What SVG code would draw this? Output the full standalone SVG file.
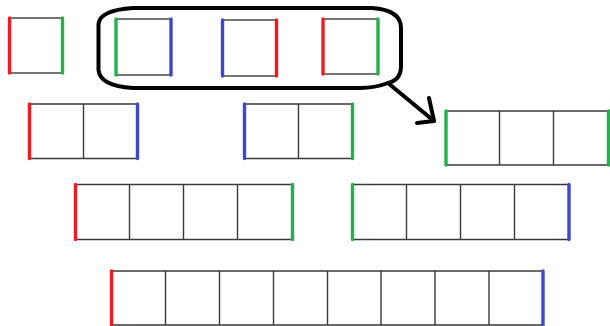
<svg xmlns="http://www.w3.org/2000/svg" width="610" height="326" viewBox="0 0 610 326">
  <style>
    .cell { fill: none; stroke: #3a3a3a; stroke-width: 1.4; }
    .edge { stroke-width: 3.4; stroke-linecap: round; fill: none; }
    .red { stroke: #ed1c24; }
    .green { stroke: #22b14c; }
    .blue { stroke: #3f48cc; }
    .ink { fill: none; stroke: #000; stroke-width: 4; stroke-linecap: round; stroke-linejoin: round; }
  </style>
  <rect width="610" height="326" fill="#fff"/>

  <!-- row 1: single squares -->
  <g id="sq-rg">
    <rect class="cell" x="9.5" y="18" width="53" height="55"/>
    <line class="edge red" x1="9.5" y1="18" x2="9.5" y2="73"/>
    <line class="edge green" x1="62.5" y1="18" x2="62.5" y2="73"/>
  </g>
  <g id="sq-gb">
    <rect class="cell" x="116" y="19" width="55" height="56"/>
    <line class="edge green" x1="116" y1="19" x2="116" y2="75"/>
    <line class="edge blue" x1="171" y1="19" x2="171" y2="75"/>
  </g>
  <g id="sq-br">
    <rect class="cell" x="222.5" y="20" width="54" height="56"/>
    <line class="edge blue" x1="222.5" y1="20" x2="222.5" y2="76"/>
    <line class="edge red" x1="276.5" y1="20" x2="276.5" y2="76"/>
  </g>
  <g id="sq-rg2">
    <rect class="cell" x="323" y="19" width="55" height="55"/>
    <line class="edge red" x1="323" y1="19" x2="323" y2="74"/>
    <line class="edge green" x1="378" y1="19" x2="378" y2="74"/>
  </g>

  <!-- row 2 -->
  <g id="bar-rb">
    <path class="cell" d="M29.5 104H137.5V158.5H29.5Z M83.5 104V158.5"/>
    <line class="edge red" x1="29.5" y1="104" x2="29.5" y2="158.5"/>
    <line class="edge blue" x1="137.5" y1="104" x2="137.5" y2="158.5"/>
  </g>
  <g id="bar-bg">
    <path class="cell" d="M244.5 104H352.5V158.5H244.5Z M298.5 104V158.5"/>
    <line class="edge blue" x1="244.5" y1="104" x2="244.5" y2="158.5"/>
    <line class="edge green" x1="352.5" y1="104" x2="352.5" y2="158.5"/>
  </g>
  <g id="bar-gg">
    <path class="cell" d="M446 111H608.5V165H446Z M499.5 111V165 M553.5 111V165"/>
    <line class="edge green" x1="446" y1="111" x2="446" y2="165"/>
    <line class="edge green" x1="608.5" y1="111" x2="608.5" y2="165"/>
  </g>

  <!-- row 3 -->
  <g id="bar-rg4">
    <path class="cell" d="M75.5 184.5H292.5V239.5H75.5Z M129.5 184.5V239.5 M183.5 184.5V239.5 M237.5 184.5V239.5"/>
    <line class="edge red" x1="75.5" y1="184.5" x2="75.5" y2="239.5"/>
    <line class="edge green" x1="292.5" y1="184.5" x2="292.5" y2="239.5"/>
  </g>
  <g id="bar-gb4">
    <path class="cell" d="M352.5 184.5H569V239.5H352.5Z M406.5 184.5V239.5 M460.5 184.5V239.5 M514.5 184.5V239.5"/>
    <line class="edge green" x1="352.5" y1="184.5" x2="352.5" y2="239.5"/>
    <line class="edge blue" x1="569" y1="184.5" x2="569" y2="239.5"/>
  </g>

  <!-- row 4 -->
  <g id="bar-rb8">
    <path class="cell" d="M111.5 271H543V325H111.5Z M165.5 271V325 M219.5 271V325 M273.5 271V325 M327.5 271V325 M381 271V325 M435 271V325 M489 271V325"/>
    <line class="edge red" x1="111.5" y1="271" x2="111.5" y2="325"/>
    <line class="edge blue" x1="543" y1="271" x2="543" y2="325"/>
  </g>

  <!-- grouping loop and arrow -->
  <g id="connectors">
    <path class="ink" d="M133 8L372 8Q401 10 401 28L401 66Q401 80 388 83Q375 88 360 88L133 88Q100 86 98.5 70L98.5 24Q100 10 133 8Z"/>
    <path class="ink" d="M388 83L434 121"/>
    <path class="ink" d="M429 98L434 121L417 123"/>
  </g>
</svg>
